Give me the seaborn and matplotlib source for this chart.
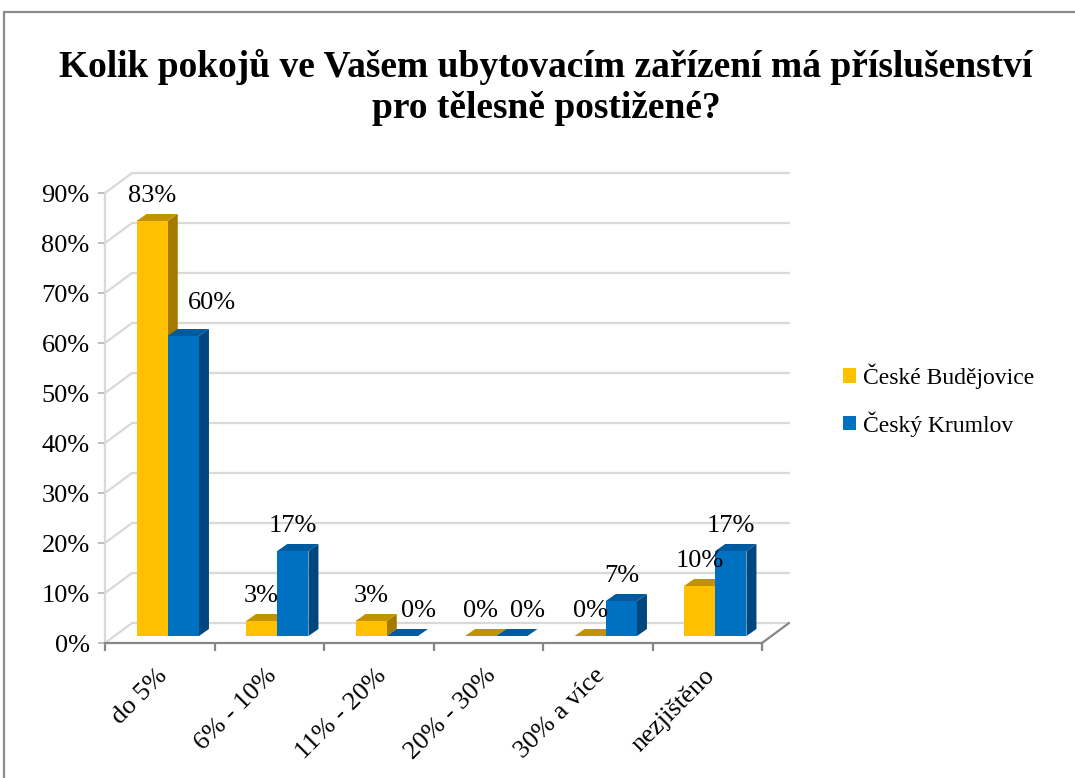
import matplotlib
matplotlib.use("Agg")
import matplotlib.pyplot as plt
import matplotlib.transforms as mtrans
from matplotlib.patches import Polygon, Rectangle
import pandas as pd
import seaborn as sns

# data (percent)
categories = ['do 5%', '6% - 10%', '11% - 20%', '20% - 30%', '30% a více', 'nezjištěno']
cities = ['České Budějovice', 'Český Krumlov']
ceske_budejovice = [83, 3, 3, 0, 0, 10]
cesky_krumlov = [60, 17, 0, 0, 7, 17]
y_ticks = [0, 10, 20, 30, 40, 50, 60, 70, 80, 90]

title_lines = ['Kolik pokojů ve Vašem ubytovacím zařízení má příslušenství',
               'pro tělesně postižené?']

# colours: front, top, side
front_cols = ['#FFC000', '#0070C0']
top_cols = ['#C29300', '#005A9E']
side_cols = ['#A27A00', '#00477F']

sns.set_style('white')
plt.rcParams['font.family'] = ['Liberation Serif', 'DejaVu Serif']
plt.rcParams['text.color'] = 'black'
plt.rcParams['xtick.labelcolor'] = 'black'
plt.rcParams['ytick.labelcolor'] = 'black'

df = pd.DataFrame({
    'kategorie': categories * 2,
    'podil': [v / 100 for v in ceske_budejovice + cesky_krumlov],
    'mesto': [cities[0]] * len(categories) + [cities[1]] * len(categories),
})

W, H = 1075, 778
fig = plt.figure(figsize=(W / 100, H / 100), dpi=100)
# front plane of the 3D box: x 105..762 px, y 643..193 px (from top)
ax = fig.add_axes([105 / W, (H - 643) / H, 657 / W, 450 / H])

sns.barplot(data=df, x='kategorie', y='podil', hue='mesto', palette=front_cols,
            width=0.57, saturation=1, ax=ax, legend=False)
ax.set_xlim(-0.5, len(categories) - 0.5)
ax.set_ylim(0, 0.9)

# pixel -> data scale
sx = ax.bbox.width / len(categories)
sy = ax.bbox.height / 0.9
wall = (27 / sx, 20 / sy)     # depth of whole box
shift = (8 / sx, 7 / sy)      # bars sit in the middle of the depth
depth = (10 / sx, 7 / sy)     # bar depth

# back wall gridlines
for t in y_ticks:
    v = t / 100
    x0, x1 = -0.5, len(categories) - 0.5
    ax.plot([x0, x0 + wall[0], x1 + wall[0]], [v, v + wall[1], v + wall[1]],
            color='#D9D9D9', lw=1.6, zorder=0.5, clip_on=False)
# floor right edge
ax.plot([len(categories) - 0.5, len(categories) - 0.5 + wall[0]], [0, wall[1]],
        color='#868686', lw=1.6, zorder=0.6, clip_on=False)

# turn the flat bars into 3D blocks
heights = [ceske_budejovice, cesky_krumlov]
for hi, cont in enumerate(ax.containers):
    for bi, bar in enumerate(cont.patches):
        x = bar.get_x() + shift[0]
        w = bar.get_width()
        h = bar.get_height()
        y0 = shift[1]
        bar.set_xy((x, y0))
        bar.set_linewidth(0)
        bar.set_zorder(3)
        bar.set_clip_on(False)
        top = Polygon([(x, y0 + h), (x + w, y0 + h), (x + w + depth[0], y0 + h + depth[1]),
                       (x + depth[0], y0 + h + depth[1])], closed=True,
                      facecolor=top_cols[hi], lw=0, zorder=2.5, clip_on=False)
        side = Polygon([(x + w, y0), (x + w, y0 + h), (x + w + depth[0], y0 + h + depth[1]),
                        (x + w + depth[0], y0 + depth[1])], closed=True,
                       facecolor=side_cols[hi], lw=0, zorder=2, clip_on=False)
        ax.add_patch(top)
        ax.add_patch(side)

        # value label; move aside when the neighbouring bar / label is in the way
        lx = x + w / 2
        ly = y0 + h + 19 / sy
        if hi == 1:
            other = heights[0][bi] / 100
            if other > h + 40 / sy:
                lx += 29 / sx
                ly += 8 / sy
            elif abs(other - h) < 20 / sy:
                lx += 16 / sx
        ax.text(lx, ly, f'{heights[hi][bi]}%', ha='center', va='baseline',
                fontsize=19, color='black', zorder=5, clip_on=False)

# axes styling
for s in ['top', 'right']:
    ax.spines[s].set_visible(False)
ax.spines['left'].set_color('#D9D9D9')
ax.spines['left'].set_linewidth(1.6)
ax.spines['bottom'].set_color('#868686')
ax.spines['bottom'].set_linewidth(1.6)

ax.set_yticks([t / 100 for t in y_ticks])
ax.set_yticklabels([f'{t}%' for t in y_ticks], fontsize=19)
ax.tick_params(axis='y', left=True, length=5, width=1.4, color='#BFBFBF', pad=6)

ax.set_xticks(range(len(categories)))
ax.set_xticks([i - 0.5 for i in range(len(categories) + 1)], minor=True)
ax.tick_params(axis='x', which='major', length=0, pad=21)
ax.tick_params(axis='x', which='minor', bottom=True, length=6, width=1.6, color='#868686')
ax.set_xticklabels(categories, fontsize=19, rotation=45, ha='right', va='center',
                   rotation_mode='anchor')
offset = mtrans.ScaledTranslation(4 / 100, 0, fig.dpi_scale_trans)
for lab in ax.get_xticklabels():
    lab.set_transform(lab.get_transform() + offset)
ax.set_xlabel('')
ax.set_ylabel('')

# legend
handles = [Rectangle((0, 0), 1, 1, facecolor=c, lw=0) for c in front_cols]
fig.legend(handles, cities, loc='center left', bbox_to_anchor=(843 / W, (H - 400) / H),
           frameon=False, fontsize=17, handlelength=0.55, handleheight=0.55,
           handletextpad=0.3, labelspacing=0.95, borderpad=0, borderaxespad=0)

# title, one text per line
for line, base in zip(title_lines, [77, 118]):
    fig.text(546 / W, (H - base) / H, line, ha='center', va='baseline', fontsize=27,
             fontweight='bold', color='black')

# outer chart border
fig.patches.append(Rectangle((4 / W, -0.1), 1.2, (H - 12) / H + 0.1, transform=fig.transFigure,
                             fill=False, edgecolor='#8C8C8C', lw=1.6))

fig.savefig('out.png', dpi=100)
